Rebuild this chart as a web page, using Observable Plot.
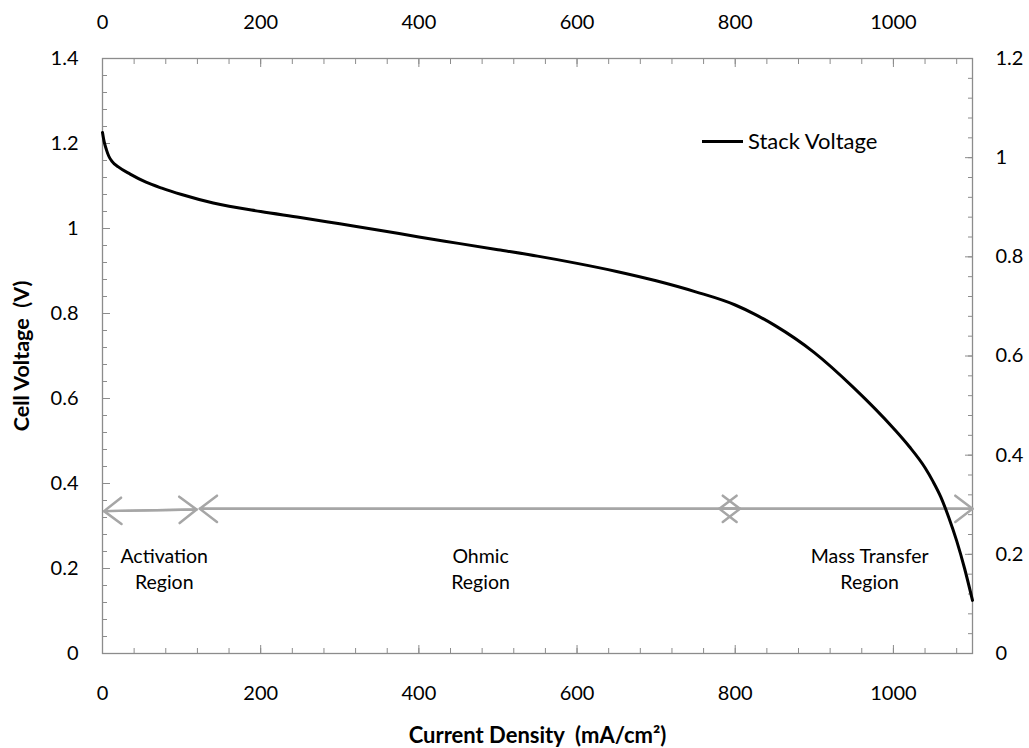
<!DOCTYPE html>
<html>
<head>
<meta charset="utf-8">
<script src="https://cdn.jsdelivr.net/npm/d3@7"></script>
<script src="https://cdn.jsdelivr.net/npm/@observablehq/plot@0.6"></script>
<style>
  html, body { margin: 0; padding: 0; background: #fff; }
  #wrap { position: relative; width: 1029px; height: 748px; font-family: Lato, "Open Sans", sans-serif; }
  #legend { position: absolute; left: 702px; top: 127px; display: flex; align-items: center; font-size: 22px; color: #000; line-height: 28px; }
  #legend .sw { width: 41px; height: 0; border-top: 3px solid #000; margin-right: 5px; }
</style>
</head>
<body>
<div id="wrap">
  <div id="chart"></div>
  <div id="legend"><span class="sw"></span><span>Stack Voltage</span></div>
</div>
<script>
// Polarization curve
const currentDensity = [0, 2, 5, 8, 12, 20, 35, 55, 75, 100, 140, 200, 250, 300, 350, 400, 450, 500, 550, 600, 650, 700, 750, 800, 825, 850, 900, 950, 1000, 1020, 1040, 1050, 1060, 1070, 1080, 1090, 1100];
const stackVoltage   = [1.226, 1.205, 1.185, 1.17, 1.158, 1.145, 1.128, 1.109, 1.095, 1.08, 1.06, 1.04, 1.026, 1.011, 0.996, 0.98, 0.965, 0.95, 0.935, 0.918, 0.899, 0.877, 0.851, 0.82, 0.798, 0.772, 0.708, 0.625, 0.53, 0.487, 0.437, 0.405, 0.368, 0.32, 0.265, 0.2, 0.125];

// Axis ticks
const xMajor = [0, 200, 400, 600, 800, 1000];
const xMinor = d3.range(0, 1101, 40);
const leftMajor = [0, 0.2, 0.4, 0.6, 0.8, 1, 1.2, 1.4];
const leftMinor = d3.range(0, 36).map(i => i * 0.04);
const rightMajor = [0, 0.2, 0.4, 0.6, 0.8, 1, 1.2];
const rightMinor = d3.range(0, 31).map(i => i * 0.04);
const rightMax = 1.2;
const leftMax = 1.4;

// Region annotations
const regionNames = ["Activation\nRegion", "Ohmic\nRegion", "Mass Transfer\nRegion"];
const regionCenters = [78, 478, 970];
const regionLabelLevel = 0.202;
const arrowFrom = [2, 123, 780];
const arrowTo = [119, 806, 1100];
const arrowLevelFrom = [0.335, 0.3404, 0.3404];
const arrowLevelTo = [0.3386, 0.3404, 0.3404];

const xTitle = "Current Density  (mA/cm²)";
const yTitle = "Cell Voltage  (V)";

const curve = currentDensity.map((x, i) => ({x, y: stackVoltage[i]}));
const regions = regionNames.map((name, i) => ({name, x: regionCenters[i], y: regionLabelLevel}));
const arrows = arrowFrom.map((a, i) => ({x1: a, x2: arrowTo[i], y1: arrowLevelFrom[i], y2: arrowLevelTo[i]}));
const arrowsBack = arrows.map(d => ({x1: d.x2, x2: d.x1, y1: d.y2, y2: d.y1}));
const toLeft = v => v * leftMax / rightMax;
const fromLeft = v => +(v * rightMax / leftMax).toFixed(1);

const axisGrey = "#8c8c8c";
const arrowGrey = "#a6a6a6";
const fontF = "Lato, 'Open Sans', sans-serif";

const chart = Plot.plot({
  width: 1029,
  height: 748,
  marginLeft: 102,
  marginRight: 57,
  marginTop: 58,
  marginBottom: 95,
  style: {fontFamily: fontF, fontSize: "20px", background: "#fff", color: "#000"},
  x: {domain: [0, 1100], label: null},
  y: {domain: [0, leftMax], label: null},
  marks: [
    Plot.frame({stroke: axisGrey, strokeWidth: 1.3}),
    // minor ticks (inside)
    Plot.axisX(xMinor, {anchor: "bottom", tickSize: -5, text: null, stroke: axisGrey, label: null}),
    Plot.axisX(xMinor, {anchor: "top", tickSize: -5, text: null, stroke: axisGrey, label: null}),
    Plot.axisY(leftMinor, {anchor: "left", tickSize: -5, text: null, stroke: axisGrey, label: null}),
    Plot.axisY(rightMinor.map(toLeft), {anchor: "right", tickSize: -5, text: null, stroke: axisGrey, label: null}),
    // major ticks
    Plot.axisX(xMajor, {anchor: "bottom", tickSize: -8, text: null, stroke: axisGrey, label: null}),
    Plot.axisX(xMajor, {anchor: "top", tickSize: -8, text: null, stroke: axisGrey, label: null}),
    Plot.axisY(leftMajor, {anchor: "left", tickSize: -8, text: null, stroke: axisGrey, label: null}),
    Plot.axisY(rightMajor.map(toLeft), {anchor: "right", tickSize: -8, text: null, stroke: axisGrey, label: null}),
    // tick labels
    Plot.axisX(xMajor, {anchor: "bottom", tickSize: 0, tickPadding: 32, label: null, tickFormat: d => String(d), fill: "#000"}),
    Plot.axisX(xMajor, {anchor: "top", tickSize: 0, tickPadding: 30, label: null, tickFormat: d => String(d), fill: "#000"}),
    Plot.axisY(leftMajor, {anchor: "left", tickSize: 0, tickPadding: 24, label: null, tickFormat: d => String(+d.toFixed(1)), fill: "#000"}),
    Plot.axisY(rightMajor.map(toLeft), {anchor: "right", tickSize: 0, tickPadding: 23, label: null, tickFormat: d => String(fromLeft(d)), fill: "#000"}),
    // region arrows (double headed)
    Plot.arrow(arrows, {x1: "x1", y1: "y1", x2: "x2", y2: "y2", stroke: arrowGrey, strokeWidth: 2.5, headLength: 13, headAngle: 75, bend: 0}),
    Plot.arrow(arrowsBack, {x1: "x1", y1: "y1", x2: "x2", y2: "y2", stroke: arrowGrey, strokeWidth: 2.5, headLength: 13, headAngle: 75, bend: 0}),
    Plot.text(regions, {x: "x", y: "y", text: "name", fontSize: 19.5, lineHeight: 1.35, fill: "#000"}),
    // curve
    Plot.line(curve, {x: "x", y: "y", stroke: "#000", strokeWidth: 3, curve: "monotone-x"}),
    // axis titles
    Plot.text([xTitle], {frameAnchor: "bottom", dy: 82, lineAnchor: "middle", textAnchor: "middle", fontWeight: "bold", fontSize: 22, fill: "#000"}),
    Plot.text([yTitle], {frameAnchor: "left", dx: -80, rotate: -90, lineAnchor: "middle", textAnchor: "middle", fontWeight: "bold", fontSize: 21.5, fill: "#000"})
  ]
});
document.getElementById("chart").appendChild(chart);
</script>
</body>
</html>
